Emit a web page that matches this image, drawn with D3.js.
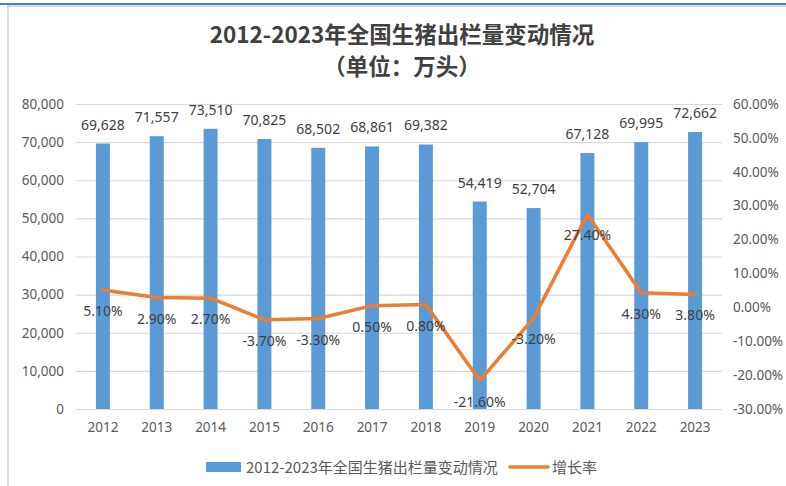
<!DOCTYPE html>
<html>
<head>
<meta charset="utf-8">
<script src="https://cdn.jsdelivr.net/npm/d3@7"></script>
<style>
  body { margin: 0; background: #fff; }
  svg text { font-family: "Noto Sans", "Noto Sans CJK SC", sans-serif; }
</style>
</head>
<body>
<svg id="drawspace" width="786" height="486"></svg>
<script>
// chart data
const years = ["2012","2013","2014","2015","2016","2017","2018","2019","2020","2021","2022","2023"];
const output = [69628, 71557, 73510, 70825, 68502, 68861, 69382, 54419, 52704, 67128, 69995, 72662];
const growth = [5.1, 2.9, 2.7, -3.7, -3.3, 0.5, 0.8, -21.6, -3.2, 27.4, 4.3, 3.8];
const leftTicks = [0, 10000, 20000, 30000, 40000, 50000, 60000, 70000, 80000];
const rightTicks = [-30, -20, -10, 0, 10, 20, 30, 40, 50, 60];
const titleLines = ["2012-2023年全国生猪出栏量变动情况", "（单位：万头）"];
const legendNames = ["2012-2023年全国生猪出栏量变动情况", "增长率"];

const svg = d3.select("#drawspace");
const barColor = "#5B9BD5", lineColor = "#ED7D31", textColor = "#595959";

// frame
svg.append("rect").attr("x", 0).attr("y", 3).attr("width", 786).attr("height", 2).attr("fill", "#4A7EC4");
svg.append("rect").attr("x", 7).attr("y", 5).attr("width", 779).attr("height", 2).attr("fill", "#D9D9D9");
svg.append("rect").attr("x", 7).attr("y", 5).attr("width", 2).attr("height", 481).attr("fill", "#D9D9D9");

// scales
let x = d3.scaleBand().domain(years).range([76, 722]).paddingInner(0.74).paddingOuter(0.37);
let yL = d3.scaleLinear().domain([0, 80000]).range([409, 104]);
let yR = d3.scaleLinear().domain([-30, 60]).range([409, 104]);

// title
svg.selectAll(".title")
  .data(titleLines)
  .enter()
  .append("text")
  .attr("class", "title")
  .attr("x", 402)
  .attr("y", (d, i) => 43 + i * 32)
  .attr("text-anchor", "middle")
  .style("font-family", "'Noto Sans CJK SC', sans-serif")
  .style("font-size", "22.5px")
  .style("font-weight", "bold")
  .attr("fill", "#404040")
  .text(d => d);

// grid lines + left axis
let gLeft = svg.append("g").attr("transform", "translate(76,0)")
  .call(d3.axisLeft(yL).tickValues(leftTicks).tickSize(-646).tickFormat(d3.format(",")).tickPadding(12));
gLeft.select(".domain").remove();
gLeft.selectAll("line").attr("stroke", "#D9D9D9").attr("stroke-width", 1.2);
gLeft.selectAll("text").attr("fill", textColor).style("font-size", "13.5px");

// right axis (labels only)
let gRight = svg.append("g").attr("transform", "translate(722,0)")
  .call(d3.axisRight(yR).tickValues(rightTicks).tickSize(0).tickPadding(11).tickFormat(d => d.toFixed(2) + "%"));
gRight.select(".domain").remove();
gRight.selectAll("text").attr("fill", textColor).style("font-size", "13.5px");

// x axis labels
let gX = svg.append("g").attr("transform", "translate(0,409)")
  .call(d3.axisBottom(x).tickSize(0).tickPadding(13));
gX.select(".domain").remove();
gX.selectAll("text").attr("fill", textColor).style("font-size", "13.5px");

// bars
svg.selectAll(".bar")
  .data(output)
  .enter()
  .append("rect")
  .attr("class", "bar")
  .attr("x", (d, i) => x(years[i]))
  .attr("width", x.bandwidth())
  .attr("y", d => yL(d))
  .attr("height", d => yL(0) - yL(d))
  .attr("fill", barColor);

svg.selectAll(".barLabel")
  .data(output)
  .enter()
  .append("text")
  .attr("x", (d, i) => x(years[i]) + x.bandwidth() / 2)
  .attr("y", d => yL(d) - 14)
  .attr("text-anchor", "middle")
  .attr("fill", "#404040")
  .style("font-size", "14px")
  .text(d => d3.format(",")(d));

// growth line
let line = d3.line()
  .x((d, i) => x(years[i]) + x.bandwidth() / 2)
  .y(d => yR(d));

svg.append("path")
  .datum(growth)
  .attr("d", line)
  .attr("fill", "none")
  .attr("stroke", lineColor)
  .attr("stroke-width", 3.5)
  .attr("stroke-linejoin", "round")
  .attr("stroke-linecap", "round");

svg.selectAll(".lineLabel")
  .data(growth)
  .enter()
  .append("text")
  .attr("x", (d, i) => x(years[i]) + x.bandwidth() / 2)
  .attr("y", d => yR(d) + 26)
  .attr("text-anchor", "middle")
  .attr("fill", "#404040")
  .style("font-size", "14px")
  .text(d => d.toFixed(2) + "%");

// legend
let legend = svg.append("g");
legend.append("rect").attr("x", 206).attr("y", 462).attr("width", 35).attr("height", 10).attr("fill", barColor);
legend.append("text").attr("x", 246).attr("y", 473).attr("fill", textColor)
  .style("font-family", "'Noto Sans CJK SC', sans-serif").style("font-size", "15px").text(legendNames[0]);
legend.append("line").attr("x1", 510).attr("x2", 548).attr("y1", 467).attr("y2", 467)
  .attr("stroke", lineColor).attr("stroke-width", 3.5).attr("stroke-linecap", "round");
legend.append("text").attr("x", 552).attr("y", 473).attr("fill", textColor)
  .style("font-family", "'Noto Sans CJK SC', sans-serif").style("font-size", "15px").text(legendNames[1]);
</script>
</body>
</html>
